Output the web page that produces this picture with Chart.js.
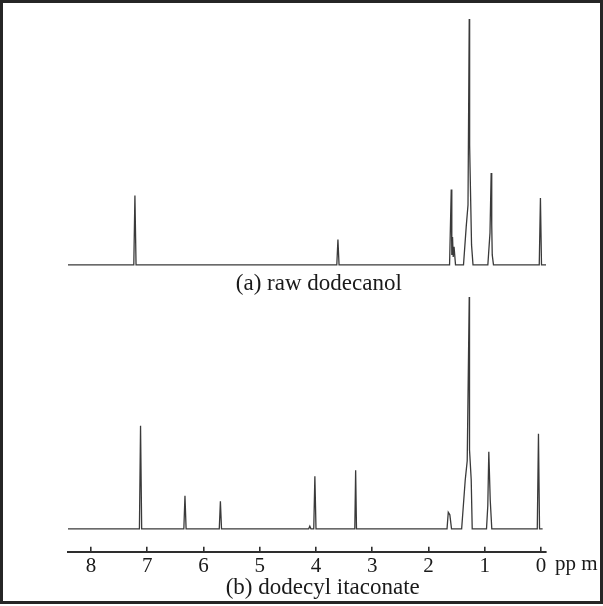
<!DOCTYPE html>
<html>
<head>
<meta charset="utf-8">
<script src="https://cdn.jsdelivr.net/npm/chart.js@4/dist/chart.umd.min.js"></script>
<style>
  html, body { margin: 0; padding: 0; background: #fff; }
  #wrap { position: relative; width: 603px; height: 606px; }
  #c { position: absolute; left: 0; top: 0; }
  #frame { position: absolute; left: 0; top: 0; width: 603px; height: 604px; box-sizing: border-box;
           border: 3px solid #262626; pointer-events: none; }
</style>
</head>
<body>
<div id="wrap">
  <canvas id="c" width="603" height="606"></canvas>
  <div id="frame"></div>
</div>
<script>
// ---- data (chemical shift in ppm, relative intensity) ----
const ppmA = [8.42, 7.24, 7.22, 7.20, 3.63, 3.61, 3.59,
              1.625, 1.595, 1.585, 1.572, 1.560, 1.545, 1.519,
              1.377, 1.329, 1.297, 1.275, 1.268, 1.261, 1.234, 1.208,
              0.944, 0.906, 0.885, 0.875, 0.866, 0.844,
              0.030, 0.009, -0.010, -0.09];
const intA = [0, 0, 69.5, 0, 0, 25.5, 0,
              0, 75.5, 10, 28, 8, 18, 0,
              0, 38, 60, 246, 120, 98, 20, 0,
              0, 32, 92, 40, 10, 0,
              0, 67, 0, 0];

const ppmB = [8.42, 7.14, 7.12, 7.10, 6.35, 6.33, 6.31, 5.72, 5.70, 5.68,
              4.13, 4.11, 4.09, 4.04, 4.02, 4.00, 3.31, 3.295, 3.28,
              1.67, 1.648, 1.620, 1.590,
              1.41, 1.389, 1.346, 1.311, 1.275, 1.270, 1.240, 1.222,
              0.968, 0.945, 0.927, 0.902, 0.874,
              0.065, 0.044, 0.025, -0.03];
const intB = [0, 0, 103, 0, 0, 33, 0, 0, 27.6, 0,
              0, 2.6, 0, 0, 52.6, 0, 0, 58.6, 0,
              0, 16.6, 14, 0,
              0, 16, 49, 68, 232, 79, 49, 0,
              0, 23, 77, 29, 0,
              0, 95, 0, 0];

const tickValues = [8, 7, 6, 5, 4, 3, 2, 1, 0];
const unitLabel = 'pp m';
const labelA = '(a) raw dodecanol';
const labelB = '(b) dodecyl itaconate';

// ---- layout / style ----
const OFFSET_A = 264;   // vertical stacking offset of trace (a)
const SERIF = '"Liberation Serif", "Times New Roman", serif';
const INK = '#2e2e2e';

const toPts = (xs, ys, off) => xs.map((x, i) => ({ x: x, y: ys[i] + off }));

const textPlugin = {
  id: 'nmrText',
  afterDraw(chart) {
    const ctx = chart.ctx;
    const xs = chart.scales.x, ys = chart.scales.y;
    ctx.save();
    ctx.fillStyle = '#1a1a1a';
    ctx.font = '23px ' + SERIF;
    ctx.textAlign = 'center';
    ctx.textBaseline = 'middle';
    ctx.fillText(labelA, xs.getPixelForValue(3.95), ys.getPixelForValue(OFFSET_A - 19));
    ctx.fillText(labelB, xs.getPixelForValue(3.88), xs.top + 36);
    ctx.font = '21px ' + SERIF;
    ctx.textAlign = 'left';
    ctx.textBaseline = 'top';
    ctx.fillText(unitLabel, xs.right + 9, xs.top + 2);
    ctx.restore();
  }
};

new Chart(document.getElementById('c'), {
  type: 'line',
  data: {
    datasets: [
      { data: toPts(ppmA, intA, OFFSET_A), borderColor: '#3a3a3a', borderWidth: 1.3,
        pointRadius: 0, tension: 0, fill: false },
      { data: toPts(ppmB, intB, 0), borderColor: '#3a3a3a', borderWidth: 1.3,
        pointRadius: 0, tension: 0, fill: false }
    ]
  },
  options: {
    responsive: false,
    animation: false,
    devicePixelRatio: 1,
    layout: { padding: { left: 68, right: 57, top: 10, bottom: 20 } },
    plugins: { legend: { display: false }, tooltip: { enabled: false } },
    scales: {
      x: {
        type: 'linear',
        reverse: true,
        min: -0.09,
        max: 8.41,
        afterBuildTicks: (s) => { s.ticks = tickValues.map(v => ({ value: v })); },
        border: { display: true, color: INK, width: 2 },
        grid: { drawOnChartArea: false, drawTicks: true, tickLength: -5, color: INK, lineWidth: 1.6 },
        ticks: { color: '#1a1a1a', font: { family: SERIF, size: 21 }, padding: 7,
                 maxRotation: 0, autoSkip: false, callback: (v) => String(v) }
      },
      y: {
        display: false,
        min: -23,
        max: 519
      }
    }
  },
  plugins: [textPlugin]
});
</script>
</body>
</html>
